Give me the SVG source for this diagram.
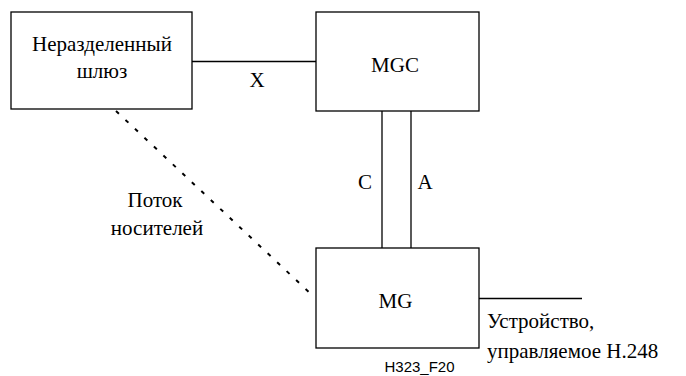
<svg xmlns="http://www.w3.org/2000/svg" width="686" height="376" viewBox="0 0 686 376">
<style>
.box{fill:#fff;stroke:#000;stroke-width:1.3}
.ln{stroke:#000;stroke-width:1.3;fill:none}
.dash{stroke:#000;stroke-width:2;stroke-dasharray:4 9;fill:none}
.c{text-anchor:middle}
</style>
<rect width="686" height="376" fill="#fff"/>
<g font-family="Liberation Serif, Times New Roman, DejaVu Serif, serif" font-size="21" fill="#000">
<g id="connectors">
<line class="ln" x1="192" y1="61.5" x2="316" y2="61.5"/>
<line class="ln" x1="382" y1="111" x2="382" y2="248"/>
<line class="ln" x1="411" y1="111" x2="411" y2="248"/>
<line class="ln" x1="479" y1="298.5" x2="582" y2="298.5"/>
<line class="dash" x1="116" y1="111" x2="311" y2="294"/>
<text class="c" x="257" y="87">X</text>
<text class="c" x="365" y="189">C</text>
<text class="c" x="425" y="189">A</text>
<text class="c" x="155" y="207">Поток</text>
<text class="c" x="157" y="235">носителей</text>
<text x="487" y="328">Устройство,</text>
<text x="487" y="358">управляемое H.248</text>
</g>
<g id="gateway">
<rect class="box" x="11" y="12" width="181" height="97"/>
<text class="c" x="102" y="50.5">Неразделенный</text>
<text class="c" x="102" y="78">шлюз</text>
</g>
<g id="mgc">
<rect class="box" x="316" y="12" width="163" height="99"/>
<text class="c" x="395" y="72">MGC</text>
</g>
<g id="mg">
<rect class="box" x="316" y="248" width="163" height="100"/>
<text class="c" x="395.5" y="308">MG</text>
</g>
</g>
<text font-family="Liberation Sans, Arial, sans-serif" font-size="15" text-anchor="middle" x="419.5" y="372">H323_F20</text>
</svg>
